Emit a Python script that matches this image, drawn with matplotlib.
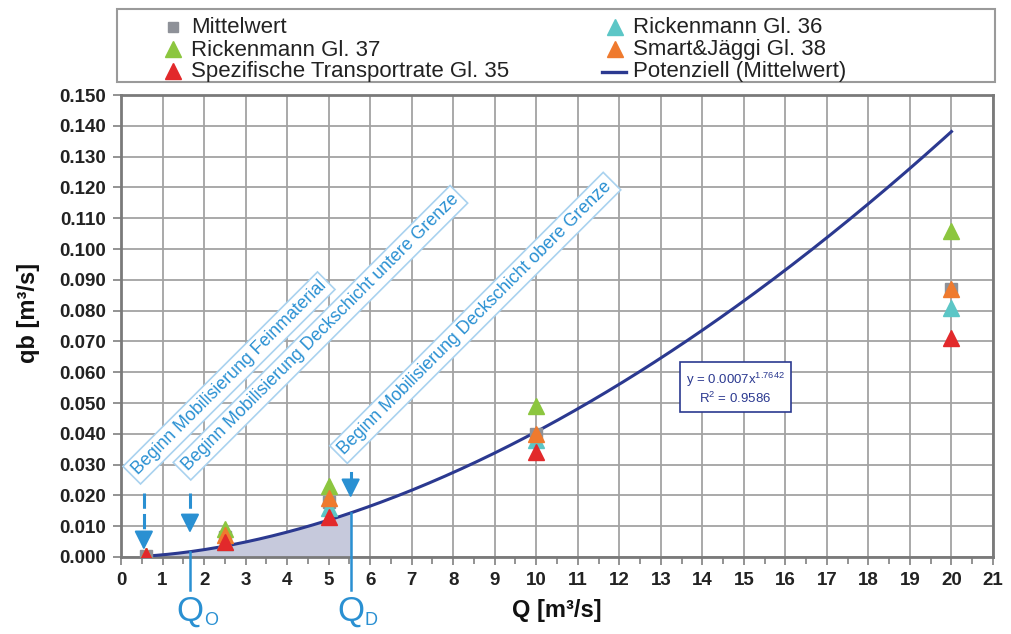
import numpy as np
import matplotlib
matplotlib.use("Agg")
import matplotlib.pyplot as plt
from matplotlib.ticker import MultipleLocator, FormatStrFormatter
from matplotlib.lines import Line2D
from matplotlib.patches import Rectangle

plt.rcParams['font.family'] = ['Liberation Sans', 'DejaVu Sans']
plt.rcParams['mathtext.fontset'] = 'custom'
plt.rcParams['mathtext.rm'] = 'Liberation Sans'

# ---- data ----
Q = [0.6, 2.5, 5, 10, 20]
mittelwert = [0.0003, 0.0065, 0.018, 0.040, 0.087]
rick36 = [0.0003, 0.005, 0.016, 0.038, 0.081]
rick37 = [0.0004, 0.009, 0.023, 0.049, 0.106]
smart38 = [0.0004, 0.007, 0.019, 0.040, 0.087]
spez35 = [0.0002, 0.005, 0.013, 0.034, 0.071]
fit_a, fit_b = 0.0007, 1.7642
fit_range = (0.6, 20)
Q_O, Q_D = 1.66, 5.53
annot_texts = ["Beginn Mobilisierung Feinmaterial",
               "Beginn Mobilisierung Deckschicht untere Grenze",
               "Beginn Mobilisierung Deckschicht obere Grenze"]
legend_labels = ['Mittelwert', 'Rickenmann Gl. 37', 'Spezifische Transportrate Gl. 35',
                 'Rickenmann Gl. 36', 'Smart&Jäggi Gl. 38', 'Potenziell (Mittelwert)']

c_mean = '#8e9198'
c_r36 = '#5cc6c6'
c_r37 = '#8cc63f'
c_s38 = '#ef7a2e'
c_sp = '#e2292b'
c_fit = '#2b3990'
c_blue = '#2a90d2'

W, H = 1011, 634
fig = plt.figure(figsize=(W / 100, H / 100), dpi=100)
ax = fig.add_axes([0.1197, 0.1215, 0.8625, 0.7285])

ax.set_xlim(0, 21)
ax.set_ylim(0, 0.150)

# fit curve
xf = np.linspace(fit_range[0], fit_range[1], 300)
yf = fit_a * xf ** fit_b
xs = np.linspace(fit_range[0], Q_D, 200)
ax.fill_between(xs, 0, fit_a * xs ** fit_b, color='#c6c9dc', zorder=2, lw=0)
ax.plot(xf, yf, color=c_fit, lw=2.2, zorder=3)

ms = 11
ax.plot(Q, mittelwert, 's', color=c_mean, ms=8, zorder=4, ls='none')
ax.plot(Q, rick36, '^', color=c_r36, ms=ms, zorder=4, ls='none')
ax.plot(Q, rick37, '^', color=c_r37, ms=ms, zorder=4, ls='none')
ax.plot(Q, smart38, '^', color=c_s38, ms=ms, zorder=5, ls='none')
ax.plot(Q, spez35, '^', color=c_sp, ms=ms, zorder=6, ls='none')

# grid and ticks
ax.xaxis.set_major_locator(MultipleLocator(1))
ax.xaxis.set_minor_locator(MultipleLocator(0.5))
ax.yaxis.set_major_locator(MultipleLocator(0.01))
ax.yaxis.set_major_formatter(FormatStrFormatter('%.3f'))
ax.grid(True, which='major', color='#a3a3a3', lw=1.3, zorder=1)
ax.set_axisbelow(True)
ax.tick_params(axis='both', which='both', direction='out', color='#808080', width=1.2)
ax.tick_params(axis='both', which='major', length=6, labelsize=13.5, pad=5)
ax.tick_params(axis='x', which='minor', length=5)
for lab in ax.get_xticklabels() + ax.get_yticklabels():
    lab.set_fontweight('bold')
    lab.set_color('#222222')
for s in ax.spines.values():
    s.set_color('#7a7a7a')
    s.set_linewidth(2)

ax.set_xlabel('Q [m³/s]', fontsize=17, fontweight='bold', labelpad=7, color='#111111')
ax.set_ylabel('qb [m³/s]', fontsize=17, fontweight='bold', color='#111111')
ax.yaxis.set_label_coords(-0.093, 0.528)

# Q_O and Q_D lines + labels
for xq, sub in ((Q_O, 'O'), (Q_D, 'D')):
    ax.plot([xq, xq], [fit_a * xq ** fit_b, -0.0108], color=c_blue, lw=1.8,
            clip_on=False, zorder=6)
    ax.text(xq, -0.0122, 'Q', color=c_blue, fontsize=25, ha='center', va='top',
            clip_on=False)
    ax.text(xq + 0.5, -0.0178, sub, color=c_blue, fontsize=13, ha='center', va='top',
            clip_on=False)

# arrows: (x, top of stem, base of head, tip, dashed?)
arrow_specs = [(0.55, 0.0208, 0.0075, 0.0023, True),
               (Q_O, 0.0208, 0.0130, 0.0078, True),
               (Q_D, 0.0273, 0.0245, 0.0192, False)]
for x0, ytop, ybase, ytip, dashed in arrow_specs:
    if dashed:
        ax.plot([x0, x0], [ytop, ybase], color=c_blue, lw=2.2, dashes=(5, 1.7), zorder=7)
    else:
        ax.plot([x0, x0], [ytop, ybase], color=c_blue, lw=2.2, zorder=7)
    ax.annotate('', xy=(x0, ytip), xytext=(x0, ybase),
                arrowprops=dict(arrowstyle='-|>,head_width=0.48,head_length=0.96',
                                mutation_scale=12, color=c_blue, lw=1.5,
                                shrinkA=0, shrinkB=0),
                zorder=7)

# rotated labels
label_pos = [(0.47, 0.0255), (1.68, 0.0268), (5.45, 0.0322)]
for (x0, y0), t in zip(label_pos, annot_texts):
    ax.text(x0, y0, t, rotation=45, rotation_mode='anchor', ha='left', va='bottom',
            fontsize=12.8, color=c_blue, zorder=8,
            bbox=dict(boxstyle='square,pad=0.22', fc='white', ec='#a9d2ef', lw=1.2))

# equation box
ax.text(14.8, 0.0548, 'y = 0.0007x$^{1.7642}$\nR$^2$ = 0.9586', fontsize=9.5,
        color=c_fit, ha='center', va='center', multialignment='center', zorder=8,
        bbox=dict(boxstyle='square,pad=0.45', fc='white', ec=c_fit, lw=1.2))

# legend (manually laid out in figure pixels)
def fx(px):
    return px / W

def fy(py):
    return 1 - py / H

fig.patches.append(Rectangle((fx(117), fy(82)), fx(995) - fx(117), fy(9) - fy(82),
                             transform=fig.transFigure, fc='white', ec='#9a9a9a',
                             lw=1.5, zorder=0))
rows = [33, 55.5, 77.5]
handles = [('s', c_mean, 7), ('^', c_r37, 11), ('^', c_sp, 11),
           ('^', c_r36, 11), ('^', c_s38, 11), ('line', c_fit, 0)]
for i, (lab, (mk, col, msz)) in enumerate(zip(legend_labels, handles)):
    col_i, row_i = divmod(i, 3)
    mx, tx = (173, 191) if col_i == 0 else (615, 633)
    yb = rows[row_i]
    if mk == 'line':
        fig.add_artist(Line2D([fx(602), fx(626)], [fy(yb - 6), fy(yb - 6)],
                              transform=fig.transFigure, color=col, lw=2.4))
    else:
        fig.add_artist(Line2D([fx(mx)], [fy(yb - 6.5)], transform=fig.transFigure,
                              marker=mk, color=col, ms=msz, ls='none'))
    fig.text(fx(tx), fy(yb), lab, fontsize=16, color='#222222', ha='left',
             va='baseline')

fig.savefig('out.png', dpi=100)
